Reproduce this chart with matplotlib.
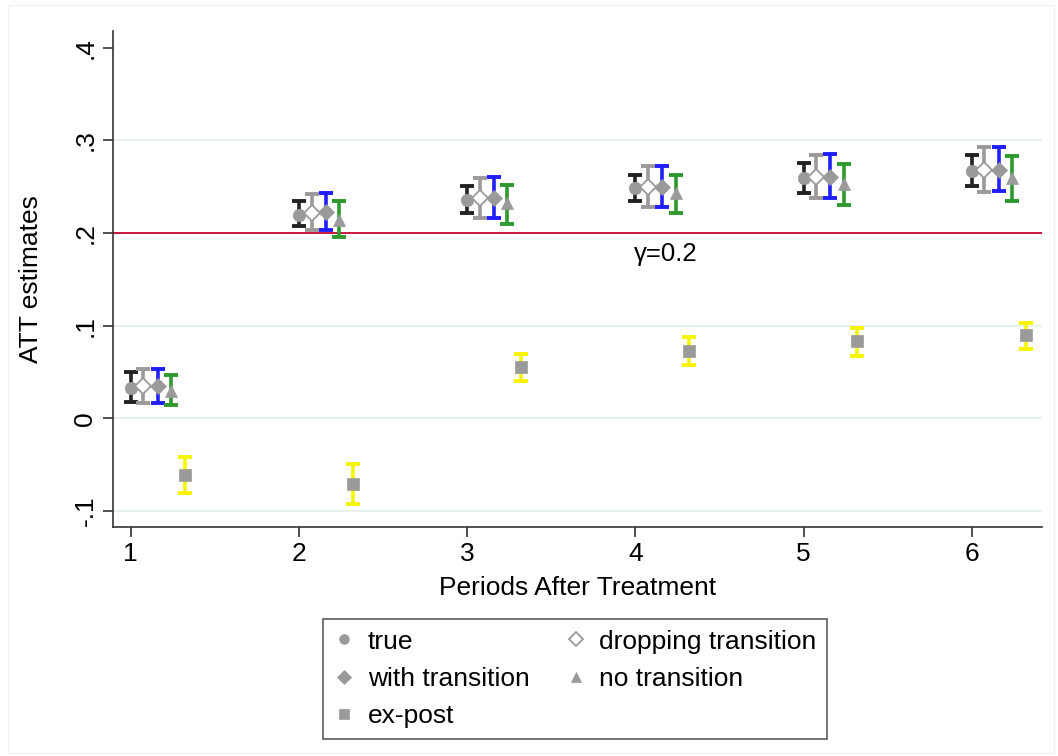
import numpy as np
import matplotlib
matplotlib.use("Agg")
import matplotlib.pyplot as plt
from matplotlib.patches import Rectangle

plt.rcParams['font.family'] = ['Liberation Sans', 'DejaVu Sans']

periods = np.array([1, 2, 3, 4, 5, 6])

# point estimates and 95% CI bounds for each estimator
true_est = [0.033, 0.220, 0.236, 0.249, 0.259, 0.267]
true_lo = [0.018, 0.2075, 0.222, 0.235, 0.243, 0.251]
true_hi = [0.050, 0.2345, 0.251, 0.263, 0.276, 0.284]

drop_est = [0.035, 0.222, 0.238, 0.250, 0.261, 0.268]
drop_lo = [0.017, 0.203, 0.216, 0.228, 0.238, 0.244]
drop_hi = [0.053, 0.242, 0.259, 0.272, 0.284, 0.293]

with_est = [0.035, 0.2225, 0.238, 0.250, 0.261, 0.268]
with_lo = [0.017, 0.203, 0.216, 0.228, 0.238, 0.245]
with_hi = [0.053, 0.243, 0.260, 0.272, 0.285, 0.293]

no_est = [0.030, 0.2145, 0.232, 0.243, 0.253, 0.259]
no_lo = [0.015, 0.196, 0.210, 0.222, 0.230, 0.235]
no_hi = [0.047, 0.2345, 0.252, 0.263, 0.275, 0.283]

expost_est = [-0.061, -0.071, 0.055, 0.0725, 0.083, 0.090]
expost_lo = [-0.080, -0.092, 0.040, 0.058, 0.067, 0.075]
expost_hi = [-0.042, -0.049, 0.070, 0.088, 0.098, 0.103]

true_gamma = 0.2

yticks = [-0.1, 0, 0.1, 0.2, 0.3, 0.4]
ytick_labels = ["-.1", "0", ".1", ".2", ".3", ".4"]

fig = plt.figure(figsize=(10.58, 7.56), dpi=100)
fig.patches.append(Rectangle((0.008, 0.004), 0.988, 0.99, transform=fig.transFigure,
                             fill=False, edgecolor='#f2f2f2', linewidth=1.0))
ax = fig.add_axes([0.1065, 0.3025, 0.8781, 0.6565])

mk = '#9a9a9a'
series = [
  # label, est, lo, hi, offset, ci colour, marker, filled
  ("true", true_est, true_lo, true_hi, 0.0, '#222222', 'o', True),
  ("dropping transition", drop_est, drop_lo, drop_hi, 0.075, '#9a9a9a', 'D', False),
  ("with transition", with_est, with_lo, with_hi, 0.16, '#1f1fff', 'D', True),
  ("no transition", no_est, no_lo, no_hi, 0.24, '#2e9a2e', '^', True),
  ("ex-post", expost_est, expost_lo, expost_hi, 0.32, '#f5f500', 's', True),
]

handles = {}
for label, est, lo, hi, off, cicol, marker, filled in series:
  est = np.array(est)
  x = periods + off
  yerr = [est - np.array(lo), np.array(hi) - est]
  ax.errorbar(x, est, yerr=yerr, fmt='none', ecolor=cicol, elinewidth=2.6,
              capsize=5, capthick=2.8, zorder=3)
  ms = 9 if marker != 'D' else 8
  if marker == 's':
    ms = 8.5
  h, = ax.plot(x, est, linestyle='none', marker=marker, markersize=ms,
               markerfacecolor=mk if filled else 'white',
               markeredgecolor=mk, markeredgewidth=1.3 if not filled else 0.5,
               zorder=4, label=label)
  handles[label] = h

ax.axhline(true_gamma, color='#c8143c', linewidth=1.4, zorder=2)
ax.text(4.18, 0.177, "γ=0.2", ha='center', va='center', fontsize=18.5)

for yv in [-0.1, 0, 0.1, 0.3]:
  ax.axhline(yv, color='#e9f1f3', linewidth=1.6, zorder=1)

ax.set_xlim(0.893, 6.416)
ax.set_ylim(-0.1175, 0.418)
ax.set_yticks(yticks)
ax.set_yticklabels(ytick_labels, rotation=90, va='center')
ax.set_xticks(periods)
ax.tick_params(axis='both', labelsize=19, length=7, width=1.2, color='#333333')
ax.tick_params(axis='y', pad=4)
ax.spines['top'].set_visible(False)
ax.spines['right'].set_visible(False)
for s in ['left', 'bottom']:
  ax.spines[s].set_linewidth(1.2)
  ax.spines[s].set_color('#333333')

ax.set_xlabel("Periods After Treatment", fontsize=19, labelpad=7)
ax.set_ylabel("ATT estimates", fontsize=19, labelpad=22)

order = ["true", "with transition", "ex-post", "dropping transition", "no transition"]
leg_handles = []
for name in order:
  h = handles[name]
  lh, = ax.plot([], [], linestyle='none', marker=h.get_marker(), markersize=7,
                markerfacecolor=h.get_markerfacecolor(), markeredgecolor=mk,
                markeredgewidth=h.get_markeredgewidth())
  leg_handles.append(lh)
leg = fig.legend(leg_handles, order, ncol=2, loc='center',
                 bbox_to_anchor=(0.5435, 0.102), fontsize=19,
                 frameon=True, fancybox=False, edgecolor='#333333',
                 handlelength=0.8, handletextpad=0.5, columnspacing=1.35,
                 labelspacing=0.5, borderpad=0.4)
leg.get_frame().set_linewidth(1.2)

fig.savefig("out.png", dpi=100)
